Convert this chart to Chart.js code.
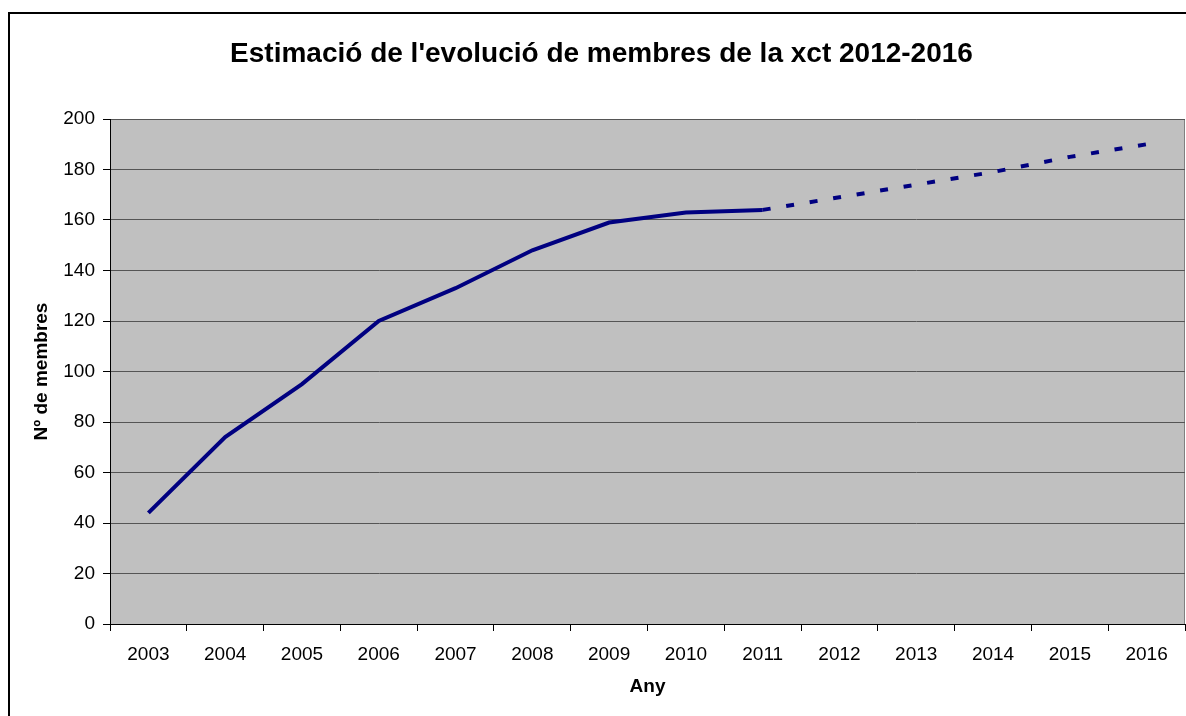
<!DOCTYPE html>
<html>
<head>
<meta charset="utf-8">
<script src="https://cdn.jsdelivr.net/npm/chart.js@4/dist/chart.umd.min.js"></script>
<style>
  html, body { margin: 0; padding: 0; background: #fff; }
  canvas { display: block; }
</style>
</head>
<body>
<canvas id="membres" width="1186" height="716"></canvas>
<script>
// anys i membres (reals fins 2011, estimació 2012-2016)
var years = ['2003','2004','2005','2006','2007','2008','2009','2010','2011','2012','2013','2014','2015','2016'];
var membres = [44, 74, 95, 120, 133, 148, 159, 163, 164, null, null, null, null, null];
var estimacio = [null, null, null, null, null, null, null, null, 164, 169, 174, 179, 185, 190];
var yTicks = [0, 20, 40, 60, 80, 100, 120, 140, 160, 180, 200];

var FONT = '"Liberation Sans", Arial, sans-serif';
Chart.defaults.font.family = FONT;
Chart.defaults.color = '#000';

// fons gris de l'àrea del gràfic i marc exterior
var fons = {
  id: 'fons',
  beforeDraw: function(chart) {
    var ctx = chart.ctx, a = chart.chartArea;
    ctx.save();
    ctx.fillStyle = '#fff';
    ctx.fillRect(0, 0, chart.width, chart.height);
    ctx.strokeStyle = '#000';
    ctx.lineWidth = 2;
    ctx.strokeRect(9, 13, chart.width + 20, chart.height + 20);
    ctx.fillStyle = '#c0c0c0';
    ctx.fillRect(a.left, a.top, a.right - a.left, a.bottom - a.top);
    ctx.strokeStyle = '#808080';
    ctx.lineWidth = 1;
    ctx.strokeRect(a.left + 0.5, a.top + 0.5, a.right - a.left - 1, a.bottom - a.top);
    ctx.restore();
  }
};

var config = {
  type: 'line',
  data: {
    labels: years,
    datasets: [
      {
        label: 'Membres',
        data: membres,
        borderColor: '#000080',
        borderWidth: 4,
        pointRadius: 0,
        tension: 0,
        spanGaps: false
      },
      {
        label: 'Estimació',
        data: estimacio,
        borderColor: '#000080',
        borderWidth: 4,
        borderDash: [8, 15.8],
        pointRadius: 0,
        tension: 0,
        spanGaps: false
      }
    ]
  },
  options: {
    responsive: false,
    animation: false,
    layout: { padding: { left: 18, right: 1, top: 0, bottom: 0 } },
    plugins: {
      legend: { display: false },
      tooltip: { enabled: false },
      title: {
        display: true,
        text: "Estimació de l'evolució de membres de la xct 2012-2016",
        font: { size: 28, weight: 'bold' },
        color: '#000',
        padding: { top: 37, bottom: 48.4 }
      }
    },
    scales: {
      x: {
        offset: true,
        grid: {
          offset: true,
          drawOnChartArea: false,
          drawTicks: true,
          tickLength: 7,
          tickColor: '#000'
        },
        border: { display: true, color: '#000', width: 1 },
        ticks: { font: { size: 19 }, padding: 12, maxRotation: 0, autoSkip: false },
        title: {
          display: true,
          text: 'Any',
          font: { size: 19, weight: 'bold' },
          padding: { top: 4, bottom: 18 }
        },
        afterFit: function(scale) { scale.height = 92; }
      },
      y: {
        min: 0,
        max: 200,
        afterBuildTicks: function(scale) {
          scale.ticks = yTicks.map(function(v) { return { value: v }; });
        },
        grid: {
          color: '#555',
          lineWidth: 1,
          drawTicks: true,
          tickLength: 7,
          tickColor: '#000'
        },
        border: { display: true, color: '#000', width: 1 },
        ticks: { font: { size: 19 }, padding: 8 },
        title: {
          display: true,
          text: 'Nº de membres',
          font: { size: 19, weight: 'bold' },
          padding: { top: 12, bottom: 4 }
        },
        afterFit: function(scale) { scale.width = 92; }
      }
    }
  },
  plugins: [fons]
};

new Chart(document.getElementById('membres'), config);
</script>
</body>
</html>
